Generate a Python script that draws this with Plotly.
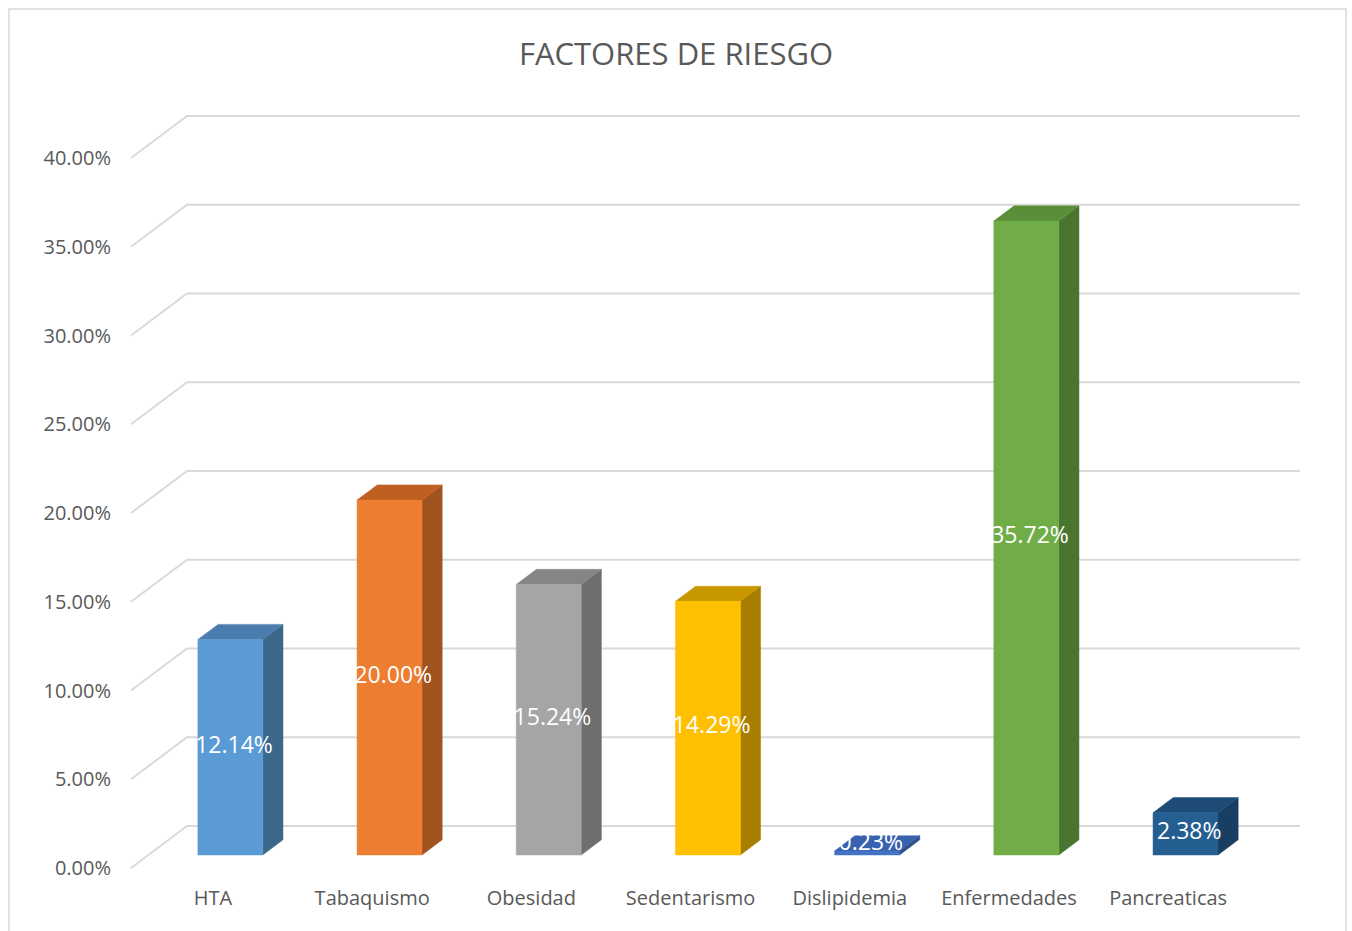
import plotly.graph_objects as go

categories = ["HTA", "Tabaquismo", "Obesidad", "Sedentarismo", "Dislipidemia", "Enfermedades", "Pancreaticas"]
values = [12.14, 20.00, 15.24, 14.29, 0.23, 35.72, 2.38]
front_colors = ["#5B9BD5", "#ED7D31", "#A5A5A5", "#FFC000", "#4472C4", "#70AD47", "#255E91"]
side_colors = ["#3B6789", "#A0521F", "#6E6E6E", "#A87E00", "#2D4E8A", "#4A7530", "#183F62"]
top_colors = ["#4A7DAE", "#C05F22", "#858585", "#C89700", "#3862AE", "#5A8E38", "#1F4C77"]
y_ticks = [0, 5, 10, 15, 20, 25, 30, 35, 40]
y_tick_labels = ["%.2f%%" % t for t in y_ticks]

# oblique projection parameters (full depth of the floor/walls)
DX = 0.352   # x shift in category units for full depth
DY = 2.366   # y shift in percent units for full depth
D0, D1 = 0.31, 0.67   # bar depth planes
W = 0.408    # bar width in category units
PLANE_L, PLANE_R = -0.515, 6.475

fig = go.Figure()

# gridlines: front-left diagonal then along back wall
for t in y_ticks:
    fig.add_trace(go.Scatter(
        x=[PLANE_L, PLANE_L + DX, PLANE_R + DX],
        y=[t, t + DY, t + DY],
        mode="lines", line=dict(color="#D9D9D9", width=2),
        hoverinfo="skip", showlegend=False))

for i, (v, fc, sc, tc) in enumerate(zip(values, front_colors, side_colors, top_colors)):
    xl = i + D0 * DX - W / 2
    xr = i + D0 * DX + W / 2
    ddx = (D1 - D0) * DX
    y0f = D0 * DY
    y0b = D1 * DY
    # side face
    fig.add_trace(go.Scatter(
        x=[xr, xr, xr + ddx, xr + ddx, xr],
        y=[y0f, v + y0f, v + y0b, y0b, y0f],
        fill="toself", fillcolor=sc, mode="lines", line=dict(color=sc, width=0.5),
        hoverinfo="skip", showlegend=False))
    # top face
    fig.add_trace(go.Scatter(
        x=[xl, xr, xr + ddx, xl + ddx, xl],
        y=[v + y0f, v + y0f, v + y0b, v + y0b, v + y0f],
        fill="toself", fillcolor=tc, mode="lines", line=dict(color=tc, width=0.5),
        hoverinfo="skip", showlegend=False))
    # front face
    fig.add_trace(go.Scatter(
        x=[xl, xr, xr, xl, xl],
        y=[y0f, y0f, v + y0f, v + y0f, y0f],
        fill="toself", fillcolor=fc, mode="lines", line=dict(color=fc, width=0.5),
        hoverinfo="skip", showlegend=False))

# data labels at the 3D centre of each bar
lab_x = [i + (D0 + D1) / 2 * DX - 0.04 for i in range(len(values))]
lab_y = [max(v / 2, 0.6) + (D0 + D1) / 2 * DY - 0.4 for v in values]
fig.add_trace(go.Scatter(
    x=lab_x, y=lab_y, mode="text",
    text=["%.2f%%" % v for v in values],
    textfont=dict(family="Open Sans, sans-serif", size=23, color="#FFFFFF"),
    hoverinfo="skip", showlegend=False))

fig.update_layout(
    width=1352, height=931,
    margin=dict(l=120, r=42, t=100, b=51),
    paper_bgcolor="white", plot_bgcolor="white",
    title=dict(text="FACTORES DE RIESGO", x=0.5, xref="container", xanchor="center",
               y=0.942, yanchor="middle",
               font=dict(family="Open Sans, sans-serif", size=31, color="#595959")),
    xaxis=dict(range=[-0.584, 6.891], tickvals=list(range(len(categories))), ticktext=categories,
               showgrid=False, zeroline=False, showline=False, ticks="", ticklabelstandoff=4,
               tickfont=dict(family="Open Sans, sans-serif", size=20, color="#595959")),
    yaxis=dict(range=[-0.676, 43.27], tickvals=y_ticks, ticktext=y_tick_labels,
               showgrid=False, zeroline=False, showline=False, ticks="", ticklabelstandoff=8,
               tickfont=dict(family="Open Sans, sans-serif", size=20, color="#595959")),
    shapes=[dict(type="rect", xref="paper", yref="paper",
                 x0=-0.0933, x1=1.0303, y0=-0.08, y1=1.1167,
                 line=dict(color="#D9D9D9", width=1.5), fillcolor="rgba(0,0,0,0)", layer="below")],
)

fig.write_html("out.html")
